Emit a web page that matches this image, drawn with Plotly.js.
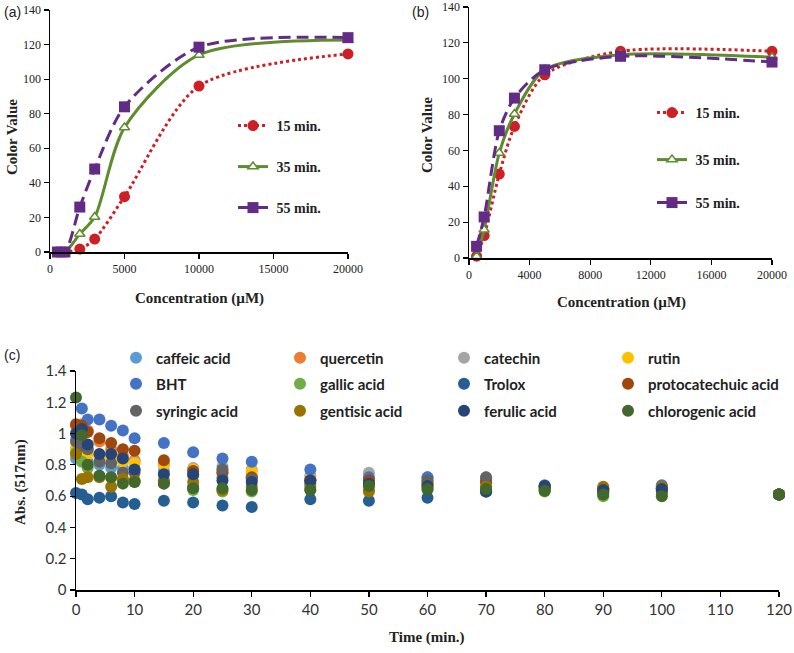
<!DOCTYPE html>
<html>
<head>
<meta charset="utf-8">
<script src="https://cdn.plot.ly/plotly-3.0.1.min.js"></script>
<style>html,body{margin:0;padding:0;background:#fff;}#chart{width:794px;height:653px;}</style>
</head>
<body>
<div id="chart"></div>
<script>
// ---------- Panel (a) ----------
var concA = [500, 1000, 2000, 3000, 5000, 10000, 20000];
var a15 = [0, 0, 1.7, 7.5, 32, 96, 114.6];
var a35 = [0, 0, 10.4, 20.2, 72, 114, 122.7];
var a55 = [0, 0, 26, 48, 84, 118.5, 124];

// ---------- Panel (b) ----------
var concB = [500, 1000, 2000, 3000, 5000, 10000, 20000];
var b15 = [1, 12.5, 46.8, 73.4, 102.2, 115.3, 115.3];
var b35 = [1, 15.8, 58.6, 80.3, 105, 113.4, 112];
var b55 = [6.5, 22.9, 71, 89.2, 105, 112.5, 109.3];

var timeLabels = ['15 min.', '35 min.', '55 min.'];
var ticksA = [0, 5000, 10000, 15000, 20000];
var ticksB = [0, 4000, 8000, 12000, 16000, 20000];

// ---------- Panel (c) ----------
var times = [0, 1, 2, 4, 6, 8, 10, 15, 20, 25, 30, 40, 50, 60, 70, 80, 90, 100, 120];
var compounds = ['caffeic acid', 'quercetin', 'catechin', 'rutin',
                 'BHT', 'gallic acid', 'Trolox', 'protocatechuic acid',
                 'syringic acid', 'gentisic acid', 'ferulic acid', 'chlorogenic acid'];
var caffeic        = [0.84, 0.83, 0.82, 0.80, 0.78, 0.78, 0.77, 0.76, 0.73, 0.72, 0.72, 0.70, 0.69, 0.72, 0.68, 0.66, 0.65, 0.66, 0.61];
var quercetin      = [1.05, 1.06, 1.02, 0.95, 0.90, 0.86, 0.83, 0.80, 0.77, 0.75, 0.73, 0.71, 0.70, 0.69, 0.69, 0.66, 0.65, 0.65, 0.61];
var catechin       = [0.96, 0.93, 0.90, 0.86, 0.84, 0.83, 0.82, 0.80, 0.78, 0.79, 0.77, 0.73, 0.75, 0.71, 0.72, 0.66, 0.64, 0.65, 0.61];
var rutin          = [0.91, 0.90, 0.87, 0.85, 0.84, 0.82, 0.81, 0.80, 0.77, 0.76, 0.76, 0.71, 0.68, 0.68, 0.67, 0.65, 0.63, 0.64, 0.61];
var bht            = [null, 1.16, 1.09, 1.09, 1.05, 1.02, 0.97, 0.94, 0.88, 0.84, 0.82, 0.77, 0.72, 0.72, 0.70, 0.67, 0.65, 0.67, 0.61];
var gallic         = [0.88, 0.82, 0.78, 0.73, 0.72, 0.70, 0.69, 0.68, 0.64, 0.63, 0.63, 0.64, 0.64, 0.64, 0.63, 0.63, 0.60, 0.61, 0.61];
var trolox         = [0.62, 0.61, 0.58, 0.59, 0.60, 0.56, 0.55, 0.57, 0.56, 0.54, 0.53, 0.58, 0.57, 0.59, 0.63, 0.64, 0.62, 0.63, 0.61];
var protocatechuic = [1.06, 1.05, 1.01, 0.97, 0.94, 0.90, 0.89, 0.83, 0.76, 0.75, 0.72, 0.70, 0.70, 0.68, 0.69, 0.65, 0.64, 0.64, 0.61];
var syringic       = [0.95, 0.92, 0.90, 0.82, 0.81, 0.75, 0.75, 0.70, 0.66, 0.77, 0.71, 0.68, 0.68, 0.70, 0.72, 0.66, 0.63, 0.65, 0.61];
var gentisic       = [0.87, 0.71, 0.72, 0.72, 0.66, 0.71, 0.70, 0.69, 0.69, 0.64, 0.66, 0.66, 0.63, 0.66, 0.66, 0.66, 0.66, 0.66, 0.61];
var ferulic        = [1.00, 1.03, 0.93, 0.87, 0.87, 0.84, 0.77, 0.74, 0.74, 0.70, 0.69, 0.70, 0.68, 0.665, 0.63, 0.665, 0.64, 0.645, 0.61];
var chlorogenic    = [1.23, 0.99, 0.80, 0.73, 0.72, 0.68, 0.69, 0.68, 0.65, 0.65, 0.64, 0.64, 0.665, 0.645, 0.645, 0.635, 0.61, 0.60, 0.61];

var seriesC = [caffeic, quercetin, catechin, rutin, bht, gallic, trolox, protocatechuic, syringic, gentisic, ferulic, chlorogenic];
var colorsC = ['#5B9BD5', '#ED7D31', '#A5A5A5', '#FFC000', '#4472C4', '#70AD47',
               '#255E91', '#9E480E', '#636363', '#997300', '#264478', '#43682B'];

var RED = '#CC1F26', GREEN = '#5E8C2E', PURPLE = '#622B86';
var serif = 'Liberation Serif, Times New Roman, serif';
var sans = 'Lato, Open Sans, sans-serif';

function px(v) { return v / 794; }
function py(v) { return 1 - v / 653; }

var traces = [];
var layout = {};
var legCount = 0;
function newLegend(cfg) {
  legCount++;
  var key = legCount === 1 ? 'legend' : 'legend' + legCount;
  layout[key] = cfg;
  return key;
}
function lineLegend(x, y) {
  return newLegend({x: px(x), y: py(y), xanchor: 'left', yanchor: 'middle', bgcolor: 'rgba(0,0,0,0)',
    borderwidth: 0, font: {family: serif, size: 14, color: '#222', weight: 'bold'}});
}

function curveSet(xs, ys15, ys35, ys55, xa, ya, legX, legYs) {
  traces.push({x: xs, y: ys15, xaxis: xa, yaxis: ya, name: '\u00A0' + timeLabels[0], legend: lineLegend(legX, legYs[0]),
    type: 'scatter', mode: 'lines+markers', cliponaxis: false,
    line: {color: RED, width: 3, dash: '3px,3px', shape: 'spline', smoothing: 0.8},
    marker: {symbol: 'circle', size: 11, color: RED}});
  traces.push({x: xs, y: ys35, xaxis: xa, yaxis: ya, name: '\u00A0' + timeLabels[1], legend: lineLegend(legX, legYs[1]),
    type: 'scatter', mode: 'lines+markers', cliponaxis: false,
    line: {color: GREEN, width: 3, shape: 'spline', smoothing: 0.8},
    marker: {symbol: 'triangle-up', size: 9, color: '#ffffff', line: {color: GREEN, width: 1.5}}});
  traces.push({x: xs, y: ys55, xaxis: xa, yaxis: ya, name: '\u00A0' + timeLabels[2], legend: lineLegend(legX, legYs[2]),
    type: 'scatter', mode: 'lines+markers', cliponaxis: false,
    line: {color: PURPLE, width: 3, dash: '12px,6px', shape: 'spline', smoothing: 0.8},
    marker: {symbol: 'square', size: 11, color: PURPLE}});
}
curveSet(concA, a15, a35, a55, 'x', 'y', 233, [126, 167, 208]);
curveSet(concB, b15, b35, b55, 'x2', 'y2', 652, [113, 160, 203]);

// legends for panel (c): per row, first three columns share one horizontal legend,
// the fourth column gets its own legend so the long names are not cut.
var rowY = [358, 384, 411];
var rowKeys = [], lastKeys = [];
for (var r = 0; r < 3; r++) {
  rowKeys.push(newLegend({x: px(116), y: py(rowY[r]), xanchor: 'left', yanchor: 'middle', orientation: 'h',
    entrywidth: 119, entrywidthmode: 'pixels', bgcolor: 'rgba(0,0,0,0)', borderwidth: 0,
    font: {family: sans, size: 15, color: '#222', weight: 'bold'}, traceorder: 'normal'}));
  lastKeys.push(newLegend({x: px(608), y: py(rowY[r]), xanchor: 'left', yanchor: 'middle', orientation: 'h',
    bgcolor: 'rgba(0,0,0,0)', borderwidth: 0,
    font: {family: sans, size: 15, color: '#222', weight: 'bold'}}));
}
for (var i = 0; i < compounds.length; i++) {
  var row = Math.floor(i / 4), col = i % 4;
  traces.push({x: times, y: seriesC[i], xaxis: 'x3', yaxis: 'y3', name: compounds[i],
    legend: col === 3 ? lastKeys[row] : rowKeys[row],
    type: 'scatter', mode: 'markers', cliponaxis: false,
    marker: {size: 12, color: colorsC[i]}});
}

function ax(extra) {
  var base = {showline: true, linecolor: '#000', linewidth: 1.5, ticks: 'outside', ticklen: 5,
    tickcolor: '#000', tickwidth: 1.2, showgrid: false, zeroline: false, fixedrange: true,
    tickfont: {family: serif, size: 12, color: '#222'}};
  for (var k in extra) base[k] = extra[k];
  return base;
}
function note(text, x, y, size, extra) {
  var a = {text: text, x: px(x), y: py(y), xref: 'paper', yref: 'paper', xanchor: 'center', yanchor: 'middle',
    showarrow: false, font: {family: serif, size: size, color: '#222', weight: 'bold'}};
  for (var k in extra) a[k] = extra[k];
  return a;
}
var panelFont = {family: 'Liberation Sans, Arial, sans-serif', size: 14, color: '#222'};

layout.width = 794;
layout.height = 653;
layout.margin = {l: 0, r: 0, t: 0, b: 0};
layout.paper_bgcolor = '#ffffff';
layout.plot_bgcolor = 'rgba(0,0,0,0)';
layout.showlegend = true;
layout.xaxis = ax({domain: [px(50), px(348)], anchor: 'y', range: [0, 20000], tickvals: ticksA, ticktext: ticksA.map(String)});
layout.yaxis = ax({domain: [py(252), py(10)], anchor: 'x', range: [0, 140], dtick: 20});
layout.xaxis2 = ax({domain: [px(469), px(772)], anchor: 'y2', range: [0, 20000], tickvals: ticksB, ticktext: ticksB.map(String)});
layout.yaxis2 = ax({domain: [py(258), py(7)], anchor: 'x2', range: [0, 140], dtick: 20});
layout.xaxis3 = ax({domain: [px(76), px(779)], anchor: 'y3', range: [0, 120], dtick: 10,
  tickfont: {family: sans, size: 15, color: '#333'}});
layout.yaxis3 = ax({domain: [py(590), py(371)], anchor: 'x3', range: [0, 1.4], dtick: 0.2,
  tickfont: {family: sans, size: 15, color: '#333'}});
layout.annotations = [
  note('(a)', 2, 12, 14, {xanchor: 'left', font: panelFont}),
  note('(b)', 410, 12, 14, {xanchor: 'left', font: panelFont}),
  note('(c)', 2, 355, 14, {xanchor: 'left', font: panelFont}),
  note('Color Value', 12, 137, 15, {textangle: -90}),
  note('Color Value', 427, 135, 15, {textangle: -90}),
  note('Concentration (\u00B5M)', 199, 298, 15),
  note('Concentration (\u00B5M)', 621, 302, 15),
  note('Time (min.)', 427, 637, 15),
  note('Abs. (517nm)', 20, 482, 15, {textangle: -90})
];

Plotly.newPlot('chart', traces, layout, {displayModeBar: false, staticPlot: true});
</script>
</body>
</html>
